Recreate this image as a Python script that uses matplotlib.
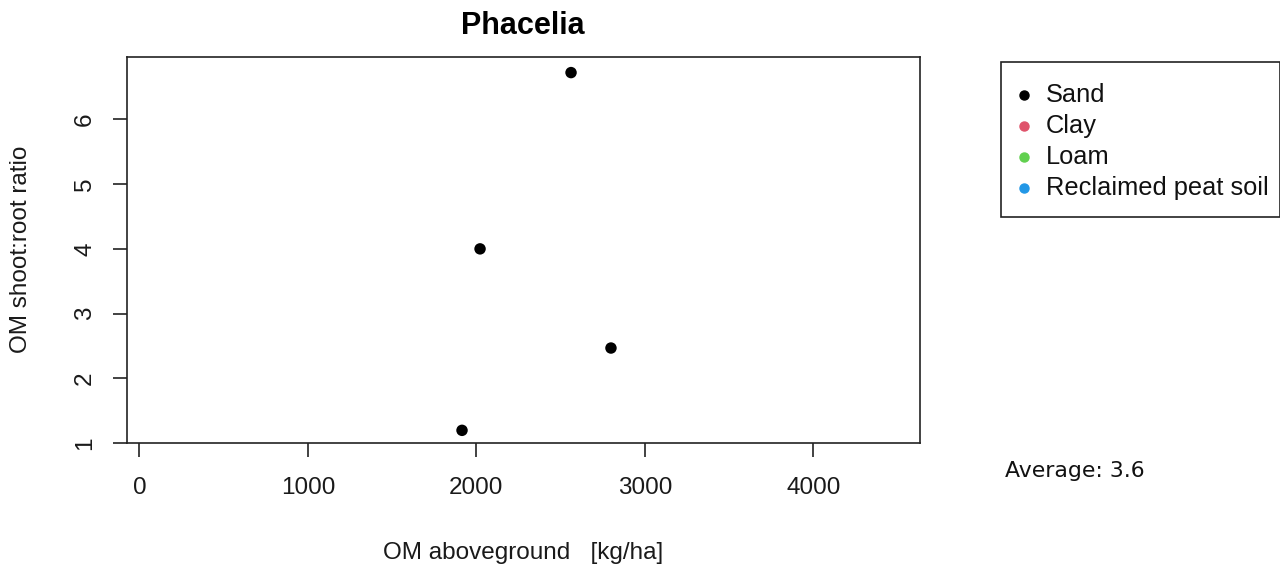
import matplotlib
matplotlib.use("Agg")
import matplotlib.pyplot as plt
from matplotlib.lines import Line2D
from matplotlib.patches import Rectangle

# ---- data ----
title = "Phacelia"
soil_types = ["Sand", "Clay", "Loam", "Reclaimed peat soil"]
soil_colors = ["#000000", "#DF536B", "#61D04F", "#2297E6"]
om_aboveground = [1915, 2022, 2562, 2799]     # kg/ha
shoot_root_ratio = [1.20, 4.00, 6.72, 2.47]
point_soil = ["Sand", "Sand", "Sand", "Sand"]
x_ticks = [0, 1000, 2000, 3000, 4000]
y_ticks = [1, 2, 3, 4, 5, 6]
x_label = "OM aboveground   [kg/ha]"
y_label = "OM shoot:root ratio"
average_text = "Average: 3.6"

W, H = 1280, 569
fig = plt.figure(figsize=(W / 100, H / 100), dpi=100)
plt.rcParams['font.family'] = ['Liberation Sans', 'DejaVu Sans']

def fx(px):
    return px / W

def fy(py):
    return 1 - py / H

left, right, top, bottom = 126.7, 920, 57.3, 443.3
ax = fig.add_axes([fx(left), fy(bottom), fx(right) - fx(left), fy(top) - fy(bottom)])

cmap = dict(zip(soil_types, soil_colors))
ax.scatter(om_aboveground, shoot_root_ratio,
           c=[cmap[s] for s in point_soil], s=68, zorder=3, linewidths=0)

ax.set_xlim(-75, 4633)
ax.set_ylim(1.0, 6.956)
ax.set_xticks(x_ticks)
ax.set_yticks(y_ticks)
ax.set_xticklabels([str(v) for v in x_ticks])
ax.set_yticklabels([str(v) for v in y_ticks])
for sp in ax.spines.values():
    sp.set_linewidth(1.2)
    sp.set_color('#222222')
ax.tick_params(axis='both', length=10, width=1.2, color='#222222',
               labelsize=17.5, labelcolor='#1a1a1a')
ax.tick_params(axis='x', pad=14)
ax.tick_params(axis='y', pad=12, labelrotation=90)
for lab in ax.get_yticklabels():
    lab.set_va('center')

# title and axis labels
fig.text(fx(523), fy(26), title, ha='center', va='center',
         fontsize=22, fontweight='bold', color='#000000')
fig.text(fx(523.5), fy(553), x_label, ha='center', va='center',
         fontsize=17.5, color='#1a1a1a')
fig.text(fx(21), fy(249), y_label, ha='center', va='center',
         rotation=90, fontsize=17.5, color='#1a1a1a')

# legend (outside plot)
fig.patches.append(Rectangle((fx(1001), fy(216.7)), fx(1279.5) - fx(1001),
                             fy(62) - fy(216.7), transform=fig.transFigure,
                             fill=False, edgecolor='#222222', linewidth=1.2))
row_y = [95, 126, 157, 188]
for name, col, yy in zip(soil_types, soil_colors, row_y):
    fig.add_artist(Line2D([fx(1024)], [fy(yy)], marker='o', markersize=6.5,
                          markerfacecolor=col, markeredgecolor=col,
                          linestyle='none', transform=fig.transFigure))
    fig.text(fx(1046), fy(yy), name, ha='left', va='center',
             fontsize=18.3, color='#111111')

fig.text(fx(1005), fy(471), average_text, ha='left', va='center',
         fontsize=15.8, color='#111111', family='DejaVu Sans')

fig.savefig("out.png", dpi=100)
